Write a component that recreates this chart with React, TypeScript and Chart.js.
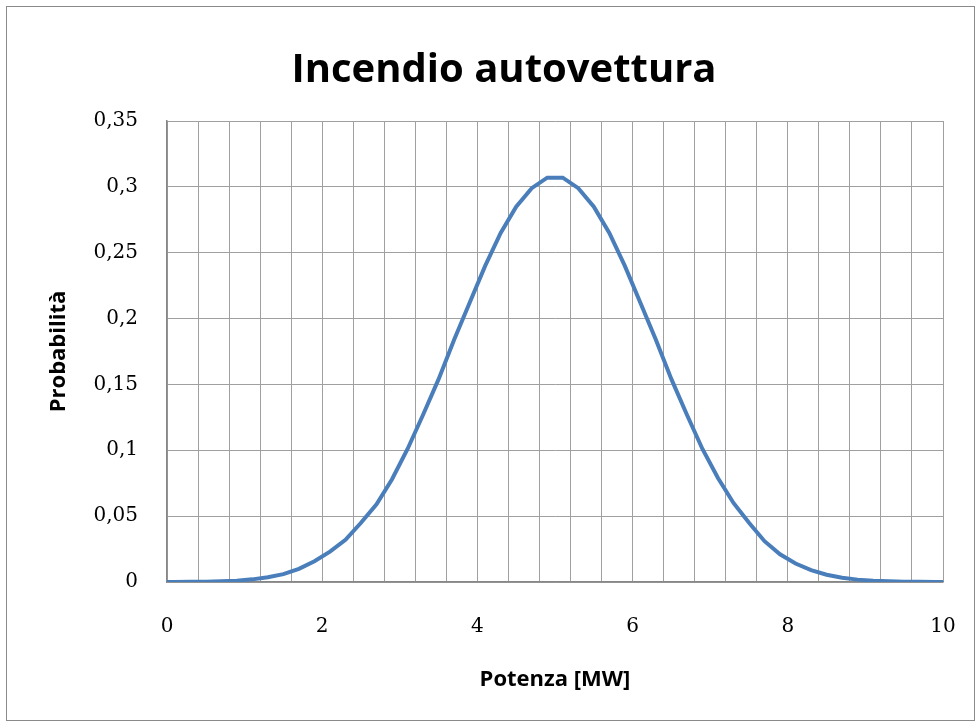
import React, { useEffect, useRef } from "react";
import { Chart, registerables } from "chart.js";

Chart.register(...registerables);

const TITLE = "Incendio autovettura";
const X_TITLE = "Potenza [MW]";
const Y_TITLE = "Probabilità";

const potenza: number[] = [
  0, 0.1, 0.3, 0.5, 0.7, 0.9, 1.1, 1.3, 1.5, 1.7, 1.9, 2.1, 2.3, 2.5, 2.7, 2.9,
  3.1, 3.3, 3.5, 3.7, 3.9, 4.1, 4.3, 4.5, 4.7, 4.9, 5.1, 5.3, 5.5, 5.7, 5.9,
  6.1, 6.3, 6.5, 6.7, 6.9, 7.1, 7.3, 7.5, 7.7, 7.9, 8.1, 8.3, 8.5, 8.7, 8.9,
  9.1, 9.3, 9.5, 9.7, 9.9, 10,
];
const probabilita: number[] = [
  0, 0, 0.0001, 0.0002, 0.0005, 0.001, 0.002, 0.0036, 0.006, 0.01, 0.0158,
  0.023, 0.032, 0.045, 0.059, 0.078, 0.101, 0.127, 0.154, 0.184, 0.212, 0.24,
  0.265, 0.285, 0.299, 0.307, 0.307, 0.299, 0.285, 0.265, 0.24, 0.212, 0.184,
  0.154, 0.127, 0.101, 0.079, 0.06, 0.045, 0.031, 0.021, 0.014, 0.009, 0.0055,
  0.0032, 0.0018, 0.001, 0.0005, 0.0002, 0.0001, 0, 0,
];

const X_MIN = 0;
const X_MAX = 10;
const X_GRID_STEP = 0.4;
const X_LABEL_STEP = 2;
const Y_MIN = 0;
const Y_MAX = 0.35;
const Y_STEP = 0.05;

const frameAndTitlePlugin = {
  id: "frameAndTitle",
  beforeDraw(chart: any) {
    const ctx = chart.ctx;
    ctx.save();
    ctx.fillStyle = "#ffffff";
    ctx.fillRect(0, 0, chart.width, chart.height);
    ctx.strokeStyle = "#8a8a8a";
    ctx.lineWidth = 1;
    ctx.strokeRect(6.5, 6.5, chart.width - 11, chart.height - 12);
    ctx.restore();
  },
  afterDraw(chart: any) {
    const ctx = chart.ctx;
    ctx.save();
    ctx.fillStyle = "#000000";
    ctx.font = "bold 40px 'Open Sans', sans-serif";
    ctx.textAlign = "center";
    ctx.textBaseline = "alphabetic";
    ctx.fillText(TITLE, 504, 82);
    ctx.restore();
  },
};

export default function App() {
  const ref = useRef<HTMLCanvasElement | null>(null);

  useEffect(() => {
    document.body.style.margin = "0";
    const canvas = ref.current;
    if (!canvas) return;
    const data = potenza.map((x, i) => ({ x, y: probabilita[i] }));
    const axisTitleFont = { family: "'Open Sans', sans-serif", size: 22, weight: "bold" as const, lineHeight: 1.2 };
    const tickFont = { family: "'DejaVu Serif', serif", size: 20 };
    const chart = new Chart(canvas, {
      type: "line",
      data: {
        datasets: [
          {
            label: Y_TITLE,
            data,
            borderColor: "#4a7ebb",
            backgroundColor: "#4a7ebb",
            borderWidth: 4,
            pointRadius: 0,
            tension: 0,
            fill: false,
          },
        ],
      },
      options: {
        responsive: false,
        animation: false,
        layout: { padding: { left: 0, right: 36, top: 121, bottom: 0 } },
        plugins: {
          legend: { display: false },
          tooltip: { enabled: false },
          title: { display: false },
        },
        scales: {
          x: {
            type: "linear",
            min: X_MIN,
            max: X_MAX,
            afterFit(scale: any) {
              scale.height = 144;
              scale.paddingLeft = 0;
              scale.paddingRight = 0;
            },
            ticks: {
              stepSize: X_GRID_STEP,
              autoSkip: false,
              maxRotation: 0,
              padding: 33,
              color: "#000000",
              font: tickFont,
              callback: (v: any) => {
                const n = Number(v);
                const r = n / X_LABEL_STEP;
                return Math.abs(r - Math.round(r)) < 1e-6 ? String(Math.round(n)) : "";
              },
            },
            grid: { color: "#a0a0a0", lineWidth: 1, drawTicks: false },
            border: { color: "#868686", width: 1.5 },
            title: {
              display: true,
              text: X_TITLE,
              color: "#000000",
              font: axisTitleFont,
              padding: { top: 0, bottom: 33 },
            },
          },
          y: {
            type: "linear",
            min: Y_MIN,
            max: Y_MAX,
            afterFit(scale: any) {
              scale.width = 167;
            },
            ticks: {
              stepSize: Y_STEP,
              padding: 29,
              color: "#000000",
              font: tickFont,
              callback: (v: any) => {
                const n = Number(v);
                if (Math.abs(n) < 1e-9) return "0";
                return String(Number(n.toFixed(2))).replace(".", ",");
              },
            },
            grid: { color: "#a0a0a0", lineWidth: 1, drawTicks: false },
            border: { color: "#868686", width: 1.5 },
            title: {
              display: true,
              text: Y_TITLE,
              color: "#000000",
              font: axisTitleFont,
              padding: { top: 46, bottom: 0 },
            },
          },
        },
      },
      plugins: [frameAndTitlePlugin],
    });
    return () => chart.destroy();
  }, []);

  return <canvas ref={ref} width={979} height={726} style={{ display: "block" }} />;
}
